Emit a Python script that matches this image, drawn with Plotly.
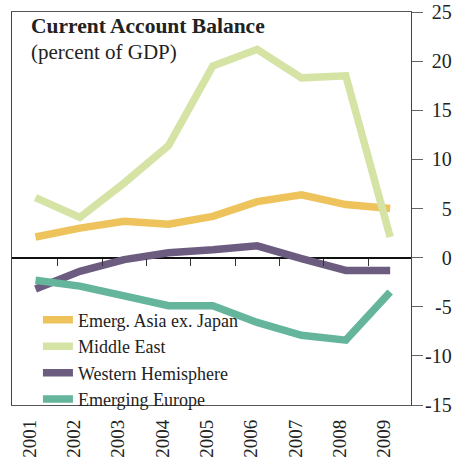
import plotly.graph_objects as go

years = [2001, 2002, 2003, 2004, 2005, 2006, 2007, 2008, 2009]
emerg_asia = [2.1, 3.0, 3.7, 3.4, 4.2, 5.7, 6.4, 5.4, 5.0]
middle_east = [6.1, 4.1, 7.6, 11.4, 19.5, 21.2, 18.3, 18.5, 2.1]
western_hem = [-3.2, -1.4, -0.2, 0.5, 0.8, 1.2, -0.1, -1.3, -1.3]
emerging_europe = [-2.3, -2.9, -3.9, -4.9, -4.9, -6.6, -7.9, -8.4, -3.5]

series_names = ["Emerg. Asia ex. Japan", "Middle East", "Western Hemisphere", "Emerging Europe"]
series_values = [emerg_asia, middle_east, western_hem, emerging_europe]
series_colors = ["#EEC35B", "#D5E3A5", "#6C5C80", "#64B59C"]

ytick_vals = [25, 20, 15, 10, 5, 0, -5, -10, -15]
ytick_labels = ["25", "20", "15", "10", "5", "0", "-5", "-10", "-15"]

def pad(lbl):
    # right-align labels using transparent filler characters
    if lbl.startswith("-"):
        fill = "0" if len(lbl) == 2 else ""
    else:
        fill = "-" if len(lbl) == 2 else "-0"
    if not fill:
        return lbl
    return "<span style='color:rgba(0,0,0,0)'>" + fill + "</span>" + lbl

ytick_text = [pad(l) for l in ytick_labels]

FONT = "Liberation Serif"
fig = go.Figure()
for name, vals, col in zip(series_names, series_values, series_colors):
    fig.add_trace(go.Scatter(x=years, y=vals, name=name, mode="lines",
                             line=dict(color=col, width=7.5)))

# ticks along the zero line
fig.add_trace(go.Scatter(x=years, y=[None]*len(years), xaxis="x2", showlegend=False, hoverinfo="skip"))

fig.update_layout(
    width=463, height=462,
    margin=dict(l=12, r=52, t=12, b=57, autoexpand=False),
    plot_bgcolor="white", paper_bgcolor="white",
    font=dict(family=FONT, size=19, color="#222"),
    showlegend=True,
    legend=dict(x=0.065, y=0.263, xanchor="left", yanchor="top",
                font=dict(family=FONT, size=18, color="#222"),
                bgcolor="rgba(0,0,0,0)", borderwidth=0, tracegroupgap=0),
    xaxis=dict(range=[2000.47, 2009.47], tickvals=years, ticktext=[str(y) for y in years],
               tickangle=-90, ticks="", showgrid=False, zeroline=False, automargin=False,
               showline=True, mirror=True, linecolor="#555", linewidth=1.2,
               ticklabelshift=-6, ticklabelstandoff=6,
               tickfont=dict(family=FONT, size=19, color="#222")),
    xaxis2=dict(range=[2000.47, 2009.47], overlaying="x", anchor="free", position=0.375,
                tickvals=[y + 0.5 for y in years[:-1]], showticklabels=False, automargin=False,
                ticks="outside", ticklen=7, tickcolor="#333", tickwidth=1.2,
                showline=False, showgrid=False, zeroline=False, side="bottom"),
    yaxis=dict(range=[-15, 25], side="right", tickvals=ytick_vals, ticktext=ytick_text,
               ticks="outside", ticklen=11, tickcolor="#666", tickwidth=1.2, automargin=False,
               ticklabelstandoff=-2,
               showgrid=False, zeroline=True, zerolinecolor="#111", zerolinewidth=1.5,
               showline=True, mirror=True, linecolor="#444", linewidth=1.2,
               tickfont=dict(family=FONT, size=20, color="#222")),
    annotations=[
        dict(text="<b>Current Account Balance</b>", xref="paper", yref="paper",
             x=0.042, y=1.0, xanchor="left", yanchor="top", showarrow=False,
             font=dict(family=FONT, size=21.5, color="#222")),
        dict(text="(percent of GDP)", xref="paper", yref="paper",
             x=0.042, y=0.933, xanchor="left", yanchor="top", showarrow=False,
             font=dict(family=FONT, size=21, color="#222")),
    ],
)

fig.write_html("out.html", config={"displayModeBar": False},
               post_script="document.body.style.margin='0px';")
